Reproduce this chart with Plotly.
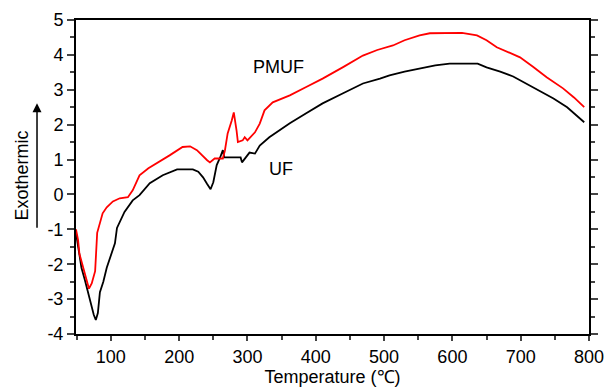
import plotly.graph_objects as go

# UF (black) curve
uf_x = [49, 52, 57, 62, 66, 72, 75, 78, 81, 84, 89, 94, 100, 106, 109, 114, 120, 132, 142, 157, 176, 197, 208, 220, 228, 235, 241, 246, 250, 255, 260, 264, 266, 275, 285, 290, 292, 296, 303, 311, 318, 332, 347, 362, 386, 410, 440, 469, 494, 508, 530, 552, 575, 596, 615, 637, 650, 670, 689, 708, 728, 748, 768, 780, 793]
uf_y = [-1.1, -1.5, -2.1, -2.45, -2.75, -3.25, -3.45, -3.6, -3.4, -2.8, -2.5, -2.1, -1.75, -1.4, -0.96, -0.75, -0.5, -0.17, -0.02, 0.32, 0.55, 0.72, 0.72, 0.72, 0.65, 0.49, 0.3, 0.15, 0.35, 0.84, 1.06, 1.27, 1.06, 1.06, 1.06, 1.06, 0.92, 1.03, 1.2, 1.17, 1.4, 1.64, 1.85, 2.04, 2.33, 2.61, 2.9, 3.18, 3.32, 3.41, 3.52, 3.61, 3.7, 3.75, 3.75, 3.75, 3.64, 3.52, 3.38, 3.18, 2.98, 2.75, 2.5, 2.3, 2.07]

# PMUF (red) curve
pmuf_x = [49, 52, 54, 58, 62, 65, 68, 72, 77, 80, 88, 94, 103, 113, 125, 132, 142, 155, 167, 186, 205, 216, 226, 234, 241, 245, 252, 257, 264, 267, 271, 277, 280, 284, 286, 293, 296, 300, 311, 318, 325, 337, 362, 386, 410, 440, 469, 490, 513, 530, 552, 567, 590, 614, 636, 650, 665, 682, 699, 718, 738, 762, 778, 793]
pmuf_y = [-1.0, -1.3, -1.7, -2.0, -2.25, -2.5, -2.7, -2.55, -2.2, -1.1, -0.54, -0.37, -0.2, -0.11, -0.08, 0.12, 0.55, 0.75, 0.89, 1.12, 1.36, 1.38, 1.27, 1.1, 0.98, 0.92, 1.03, 1.03, 1.03, 1.26, 1.75, 2.12, 2.35, 1.84, 1.5, 1.55, 1.64, 1.55, 1.78, 2.03, 2.41, 2.64, 2.84, 3.08, 3.32, 3.65, 3.98, 4.14, 4.27, 4.42, 4.56, 4.62, 4.63, 4.63, 4.56, 4.42, 4.22, 4.08, 3.93, 3.66, 3.36, 3.04, 2.78, 2.5]

x_ticks = [100, 200, 300, 400, 500, 600, 700, 800]
y_ticks = [-4, -3, -2, -1, 0, 1, 2, 3, 4, 5]
y_ticktext = [str(v) for v in y_ticks]

FONT = "Liberation Sans, Arial, sans-serif"

fig = go.Figure()
fig.add_trace(go.Scatter(x=uf_x, y=uf_y, mode="lines", line=dict(color="black", width=1.8), name="UF"))
fig.add_trace(go.Scatter(x=pmuf_x, y=pmuf_y, mode="lines", line=dict(color="#ff0000", width=1.8), name="PMUF"))

fig.update_layout(
    width=605, height=387,
    margin=dict(l=76, r=16, t=20, b=53),
    paper_bgcolor="white", plot_bgcolor="white",
    showlegend=False,
    font=dict(family=FONT, size=18, color="black"),
    xaxis=dict(
        range=[49, 800], tickvals=x_ticks, ticks="outside", ticklen=5, tickwidth=1.5,
        showline=True, linecolor="black", linewidth=2, mirror=True, showgrid=False, zeroline=False,
        minor=dict(dtick=50, tick0=0, ticks="outside", ticklen=4, tickwidth=1.5, showgrid=False),
        title=dict(text="Temperature (℃)", standoff=2, font=dict(size=18)),
        tickfont=dict(size=18), automargin=False,
    ),
    yaxis=dict(
        range=[-4, 5], tickvals=y_ticks, ticktext=y_ticktext, ticks="outside", ticklen=7, tickwidth=1.5,
        showline=True, linecolor="black", linewidth=2, mirror="ticks", showgrid=False, zeroline=False,
        minor=dict(dtick=0.5, tick0=0, ticks="outside", ticklen=4, tickwidth=1.5, showgrid=False),
        tickfont=dict(size=18), automargin=False,
    ),
)

fig.add_annotation(text="PMUF", x=0.395, y=0.85, xref="paper", yref="paper", showarrow=False,
                   font=dict(size=18), xanchor="center", yanchor="middle")
fig.add_annotation(text="UF", x=0.40, y=0.525, xref="paper", yref="paper", showarrow=False,
                   font=dict(size=18), xanchor="center", yanchor="middle")
fig.add_annotation(text="Exothermic", x=-0.105, y=0.505, xref="paper", yref="paper", showarrow=False,
                   textangle=-90, font=dict(size=18), xanchor="center", yanchor="middle")
fig.add_annotation(text="", x=-0.076, y=0.735, xref="paper", yref="paper", showarrow=True,
                   ax=0, ay=126, axref="pixel", ayref="pixel", arrowhead=2, arrowsize=1.2,
                   arrowwidth=1.5, arrowcolor="black")

fig.write_html("out.html")
